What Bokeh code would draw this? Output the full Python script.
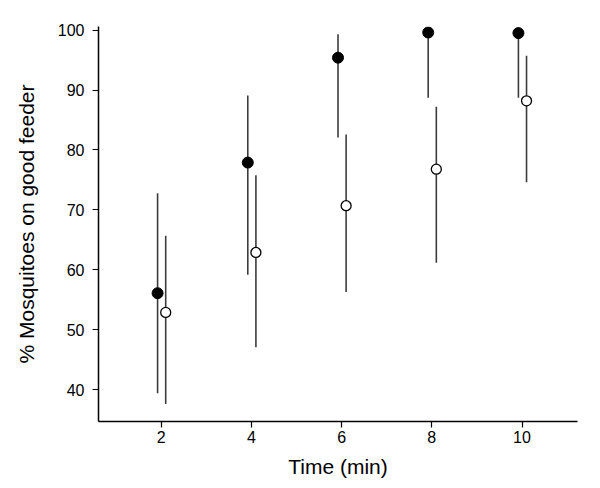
from bokeh.plotting import figure
from bokeh.models import ColumnDataSource, Range1d, FixedTicker
from bokeh.transform import dodge
from bokeh.embed import file_html
from bokeh.resources import INLINE

# Data
times = [2, 4, 6, 8, 10]
filled_mean = [56.1, 77.9, 95.4, 99.6, 99.5]
filled_upper = [72.8, 89.1, 99.3, 99.6, 99.5]
filled_lower = [39.4, 59.2, 82.1, 88.7, 88.7]
open_mean = [52.9, 62.9, 70.7, 76.8, 88.2]
open_upper = [65.7, 75.8, 82.6, 87.2, 95.7]
open_lower = [37.6, 47.1, 56.3, 61.2, 74.6]
x_ticks = [2, 4, 6, 8, 10]
y_ticks = [40, 50, 60, 70, 80, 90, 100]

FONT = "Liberation Sans"

src_f = ColumnDataSource(dict(x=times, y=filled_mean, lo=filled_lower, hi=filled_upper))
src_o = ColumnDataSource(dict(x=times, y=open_mean, lo=open_lower, hi=open_upper))

p = figure(width=592, height=480, output_backend="svg", toolbar_location=None,
           x_range=Range1d(0.61, 11.23), y_range=Range1d(34.7, 100.6),
           min_border_left=98, min_border_right=15, min_border_top=26, min_border_bottom=59)

p.outline_line_color = None
p.xgrid.visible = False
p.ygrid.visible = False
p.background_fill_color = "white"
p.border_fill_color = "white"

bar_color = "#3c3c3c"
p.segment(x0=dodge("x", -0.08, range=p.x_range), y0="lo",
          x1=dodge("x", -0.08, range=p.x_range), y1="hi",
          source=src_f, line_color=bar_color, line_width=1.6)
p.segment(x0=dodge("x", 0.1, range=p.x_range), y0="lo",
          x1=dodge("x", 0.1, range=p.x_range), y1="hi",
          source=src_o, line_color=bar_color, line_width=1.6)

p.scatter(x=dodge("x", -0.08, range=p.x_range), y="y", source=src_f,
          size=11, fill_color="black", line_color="black", line_width=1)
p.scatter(x=dodge("x", 0.1, range=p.x_range), y="y", source=src_o,
          size=10, fill_color="white", line_color="black", line_width=1.3)

p.xaxis.ticker = FixedTicker(ticks=x_ticks)
p.yaxis.ticker = FixedTicker(ticks=y_ticks)
p.xaxis.minor_tick_line_color = None
p.yaxis.minor_tick_line_color = None

for ax in (p.xaxis, p.yaxis):
    ax.axis_line_color = "black"
    ax.axis_line_width = 1.5
    ax.major_tick_line_color = "black"
    ax.major_tick_line_width = 1.2
    ax.major_tick_out = 6
    ax.major_tick_in = 0
    ax.major_label_text_font = FONT
    ax.major_label_text_font_size = "16px"
    ax.major_label_text_color = "black"
    ax.axis_label_text_font = FONT
    ax.axis_label_text_font_size = "21px"
    ax.axis_label_text_font_style = "normal"
    ax.axis_label_text_color = "black"

p.xaxis.axis_label = "Time (min)"
p.yaxis.axis_label = "% Mosquitoes on good feeder"
p.xaxis.major_label_standoff = 3
p.yaxis.major_label_standoff = 8
p.xaxis.axis_label_standoff = 9
p.yaxis.axis_label_standoff = 17

open("out.html", "w").write(file_html(p, INLINE))
